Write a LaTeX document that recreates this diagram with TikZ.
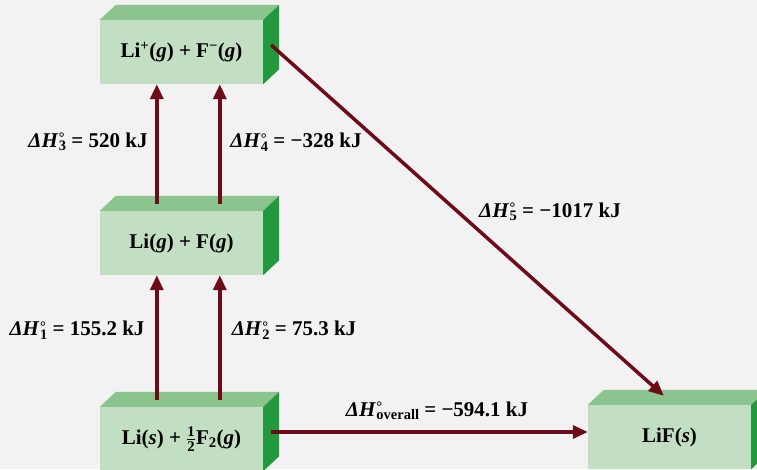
\documentclass[tikz,border=0pt]{standalone}
\usepackage{amsmath}
\usepackage{fontspec}
\setmainfont{Liberation Serif}
\usetikzlibrary{arrows.meta,calc}
\definecolor{bgc}{HTML}{F2F2F2}
\definecolor{frontc}{HTML}{C2DFC3}
\definecolor{topc}{HTML}{8CC490}
\definecolor{sidec}{HTML}{23993D}
\definecolor{arrc}{HTML}{6E0B18}
\newcommand{\subsz}{\fontsize{14.5}{15}\selectfont}
\newcommand{\dH}[1]{\textit{ΔH}\kern0.5pt\rlap{\raisebox{4.5pt}{\subsz°}}\raisebox{-3.5pt}{\subsz #1}}
\newcommand{\cuboid}[4]{%
  \node[frontbox] (#1) at (#2,#3) {#4};
  \fill[topc] (#1.north west) -- ++(16,-15) -- ($(#1.north east)+(16,-15)$) -- (#1.north east) -- cycle;
  \fill[sidec] (#1.north east) -- ++(16,-15) -- ($(#1.south east)+(16,-15)$) -- (#1.south east) -- cycle;
}
\begin{document}
\begin{tikzpicture}[x=1pt,y=-1pt,
  frontbox/.style={fill=frontc, minimum width=163pt, minimum height=64pt, inner sep=0pt,
    font=\fontsize{21}{24}\selectfont\bfseries},
  lbl/.style={inner sep=0pt, font=\fontsize{21}{24}\selectfont\bfseries},
  arr/.style={draw=arrc, line width=3.5pt, -{Triangle[length=15pt,width=13pt]}}]
\fill[bgc] (0,0) rectangle (757,469);
\useasboundingbox (0,0) rectangle (757,469);
\clip (0,0) rectangle (757,469);
\cuboid{top}{181.5}{52}{Li\textsuperscript{+}(\textit{g}) + F\textsuperscript{−}(\textit{g})}
\cuboid{mid}{181.5}{243}{Li(\textit{g}) + F(\textit{g})}
\cuboid{bot}{181.5}{439}{Li(\textit{s}) + $\frac{\text{1}}{\text{2}}$F\textsubscript{2}(\textit{g})}
\cuboid{lif}{669.5}{437}{LiF(\textit{s})}
% vertical arrows
\draw[arr] ($(bot.north west)+(57,-7)$) -- ($(mid.south west)+(57,0)$);
\draw[arr] ($(bot.north west)+(120,-7)$) -- ($(mid.south west)+(120,0)$);
\draw[arr] ($(mid.north west)+(57,-7)$) -- ($(top.south west)+(57,0)$);
\draw[arr] ($(mid.north west)+(120,-7)$) -- ($(top.south west)+(120,0)$);
% horizontal and diagonal
\coordinate (hs) at ($(bot.east)+(8,-7)$);
\draw[arr] (hs) -- (lif.west |- hs);
\coordinate (ds) at ($(top.east)+(8,-7)$);
\coordinate (de) at ($(lif.north west)+(76,-9)$);
\draw[arr] (ds) -- (de);
% labels
\node[lbl] (l3) at (88,142) {\dH{3} = 520 kJ};
\node[lbl] (l4) at (296,142) {\dH{4} = −328 kJ};
\node[lbl] (l1) at (77,330) {\dH{1} = 155.2 kJ};
\node[lbl] (l2) at (294,330) {\dH{2} = 75.3 kJ};
\node[lbl] (l5) at (550,212) {\dH{5} = −1017 kJ};
\node[lbl] (lo) at (437,411) {\dH{overall} = −594.1 kJ};
\end{tikzpicture}
\end{document}
